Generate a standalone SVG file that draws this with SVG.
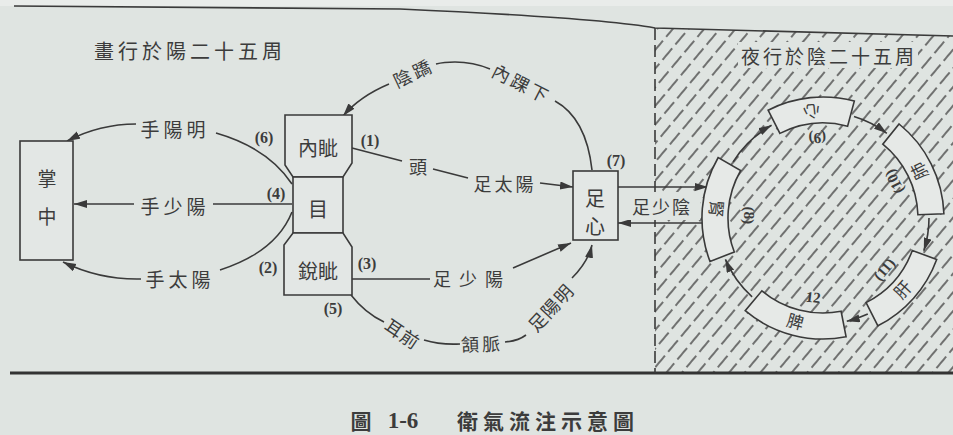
<svg xmlns="http://www.w3.org/2000/svg" width="953" height="435" viewBox="0 0 953 435">
<defs>
<style>
.t{font-family:"Noto Sans CJK TC","Noto Sans CJK SC",sans-serif;fill:#3c3c3c;text-anchor:middle;dominant-baseline:central}
.n{font-family:"Liberation Serif",serif;font-weight:bold;fill:#3c3c3c;text-anchor:middle;dominant-baseline:central}
.ln{fill:none;stroke:#3a3a3a;stroke-width:1.6}
.ar{fill:none;stroke:#3a3a3a;stroke-width:1.6;marker-end:url(#ah)}
.box{fill:#e3e7e5;stroke:#3a3a3a;stroke-width:1.6}
.seg{fill:#e6e9e7;stroke:#3a3a3a;stroke-width:1.6}
</style>
<marker id="ah" markerUnits="userSpaceOnUse" markerWidth="14" markerHeight="10" refX="13" refY="4" orient="auto">
<path d="M0,0 L13,4 L0,8 Z" fill="#3a3a3a"/>
</marker>
<pattern id="hatch" patternUnits="userSpaceOnUse" width="20" height="12" patternTransform="rotate(-50)">
<line x1="0" y1="6" x2="15" y2="6" stroke="#4a4a4a" stroke-width="1.5"/>
</pattern>
<clipPath id="hc"><polygon points="655,28 953,36 953,373 655,373"/></clipPath>
</defs>
<rect x="0" y="0" width="953" height="435" fill="#dfe4e1"/>
<rect x="0" y="0" width="953" height="6" fill="#e9ecea"/>
<rect x="655" y="20" width="298" height="360" fill="url(#hatch)" clip-path="url(#hc)"/>
<path d="M14,6 L400,9 Q600,18 655,28 L953,36" class="ln" stroke-width="3"/>
<line x1="10" y1="373" x2="953" y2="373" stroke="#333" stroke-width="3"/>
<line x1="655" y1="28" x2="655" y2="373" stroke="#3a3a3a" stroke-width="1.6" stroke-dasharray="12,5"/>
<rect x="738" y="42" width="180" height="26" fill="#dfe4e1"/>
<text class="t" x="190" y="50" font-size="20" letter-spacing="4">畫行於陽二十五周</text>
<text class="t" x="829" y="55" font-size="19" letter-spacing="3">夜行於陰二十五周</text>

<g id="connectors">
<path class="ar" d="M136,124 Q100,124 67,141"/>
<path class="ln" d="M216,133 Q268,148 292,184"/>
<path class="ar" d="M134,204 L74,204"/>
<path class="ln" d="M213,204 L292,204"/>
<path class="ar" d="M141,279 Q100,280 63,262"/>
<path class="ln" d="M220,270 Q276,252 292,212"/>
<path class="ln" d="M352,148 L402,161"/>
<path class="ln" d="M433,169 L468,178"/>
<path class="ar" d="M540,183 L573,187"/>
<path class="ln" d="M592,170 C588,134 575,112 555,101"/>
<path class="ln" d="M490,69 C478,64 468,62 455,62 C446,62 440,63 436,64"/>
<path class="ar" d="M389,84 C370,92 355,102 343,116"/>
<path class="ln" d="M352,279 L430,279"/>
<path class="ar" d="M513,268 L571,243"/>
<path class="ln" d="M351,295 Q365,313 384,322"/>
<path class="ln" d="M424,340 Q440,345 460,344"/>
<path class="ln" d="M505,342 Q518,341 526,335"/>
<path class="ar" d="M572,278 Q588,262 592,245"/>
<path class="ar" d="M618,187 L708,187"/>
<path class="ar" d="M708,223 L618,223"/>
<path class="ar" d="M733.1,161.8 A106,106 0 0 1 771.6,125.3"/>
<path class="ar" d="M854.0,116.6 A106,106 0 0 1 886.8,133.3"/>
<path class="ar" d="M929,218 A106,106 0 0 1 923.8,250.8"/>
<path class="ar" d="M867.8,314.1 A106,106 0 0 1 846.8,321.3"/>
<path class="ar" d="M752.1,296.8 A106,106 0 0 1 725.4,259.4"/>
</g>
<rect x="624" y="192" width="76" height="28" fill="#dfe4e1"/>

<text class="t" x="175" y="128" font-size="19" letter-spacing="4">手陽明</text>
<text class="t" x="175" y="205" font-size="19" letter-spacing="4">手少陽</text>
<text class="t" x="180" y="278" font-size="19" letter-spacing="4">手太陽</text>
<text class="n" x="264" y="137" font-size="16">(6)</text>
<text class="n" x="276" y="193" font-size="16">(4)</text>
<text class="n" x="268" y="267" font-size="16">(2)</text>
<text class="n" x="370" y="140" font-size="16">(1)</text>
<text class="n" x="367" y="263" font-size="16">(3)</text>
<text class="n" x="333" y="308" font-size="16">(5)</text>
<text class="n" x="616" y="160" font-size="16">(7)</text>
<text class="t" x="418" y="166" font-size="18">頭</text>
<text class="t" x="505" y="183" font-size="18" letter-spacing="3">足太陽</text>
<text class="t" x="472" y="278" font-size="18" letter-spacing="8">足少陽</text>
<text class="t" x="662" y="206" font-size="18" letter-spacing="2">足少陰</text>
<text class="t" transform="translate(413,72) rotate(-25)" font-size="18" letter-spacing="3">陰蹻</text>
<text class="t" transform="translate(522,83) rotate(27)" font-size="18" letter-spacing="3">內踝下</text>
<text class="t" transform="translate(403,333) rotate(34)" font-size="18" letter-spacing="1">耳前</text>
<text class="t" transform="translate(482,343) rotate(-2)" font-size="18" letter-spacing="3">頷脈</text>
<text class="t" transform="translate(550,307) rotate(-47)" font-size="18" letter-spacing="1">足陽明</text>

<g id="node-zhangzhong">
<rect class="box" x="20" y="141" width="53" height="119"/>
<text class="t" x="47" y="177" font-size="19">掌</text>
<text class="t" x="47" y="215" font-size="19">中</text>
</g>
<g id="node-neizi">
<path class="box" d="M285,115 L352,115 L352,163 L343,177 L293,177 L285,165 Z"/>
<text class="t" x="318" y="147" font-size="20">內眦</text>
</g>
<g id="node-mu">
<rect class="box" x="293" y="177" width="50" height="56"/>
<text class="t" x="318" y="208" font-size="20">目</text>
</g>
<g id="node-ruizi">
<path class="box" d="M293,233 L343,233 L352,247 L352,295 L284,295 L284,245 Z"/>
<text class="t" x="318" y="270" font-size="20">銳眦</text>
</g>
<g id="node-zuxin">
<rect class="box" x="573" y="171" width="45" height="69"/>
<text class="t" x="595" y="197" font-size="20">足</text>
<text class="t" x="595" y="225" font-size="20">心</text>
</g>
<g id="node-xin">
<path class="seg" d="M768.1,110.2 A121,121 0 0 1 854.3,101.1 L847.6,126.2 A95,95 0 0 0 779.9,133.4 Z"/>
<text class="t" transform="translate(811.9,112.6) rotate(174)" font-size="17">心</text>
<text class="n" transform="translate(817.4,138.2) rotate(176)" font-size="15">(9)</text>
</g>
<g id="node-fei">
<path class="seg" d="M899.1,124.0 A121,121 0 0 1 943.9,213.8 L917.9,214.7 A95,95 0 0 0 882.8,144.2 Z"/>
<text class="t" transform="translate(918.3,171.5) rotate(-116)" font-size="17">肺</text>
<text class="n" transform="translate(894.3,181.7) rotate(-117)" font-size="15">(10)</text>
</g>
<g id="node-gan">
<path class="seg" d="M936.7,259.4 A121,121 0 0 1 877.9,325.8 L866.1,302.6 A95,95 0 0 0 912.3,250.5 Z"/>
<text class="t" transform="translate(901.8,288.9) rotate(-48)" font-size="17">肝</text>
<text class="n" transform="translate(884.3,269.4) rotate(-50)" font-size="15">(11)</text>
</g>
<g id="node-pi">
<path class="seg" d="M846.1,336.8 A121,121 0 0 1 745.2,310.7 L761.9,290.8 A95,95 0 0 0 841.1,311.3 Z"/>
<text class="t" transform="translate(795.6,320.4) rotate(15)" font-size="17">脾</text>
<text class="n" transform="translate(813.2,297.4) rotate(7)" font-size="15">12</text>
</g>
<g id="node-shen">
<path class="seg" d="M710.0,261.4 A121,121 0 0 1 718.2,157.5 L740.7,170.5 A95,95 0 0 0 734.3,252.0 Z"/>
<text class="t" transform="translate(717.4,208.8) rotate(95)" font-size="17">腎</text>
<text class="n" transform="translate(749,215.4) rotate(92)" font-size="15">(8)</text>
</g>

<text class="t" x="361" y="420" font-size="21" font-weight="bold">圖</text>
<text class="n" x="403" y="420" font-size="23">1-6</text>
<text class="t" x="548" y="420" font-size="21" font-weight="bold" letter-spacing="5">衛氣流注示意圖</text>
</svg>
